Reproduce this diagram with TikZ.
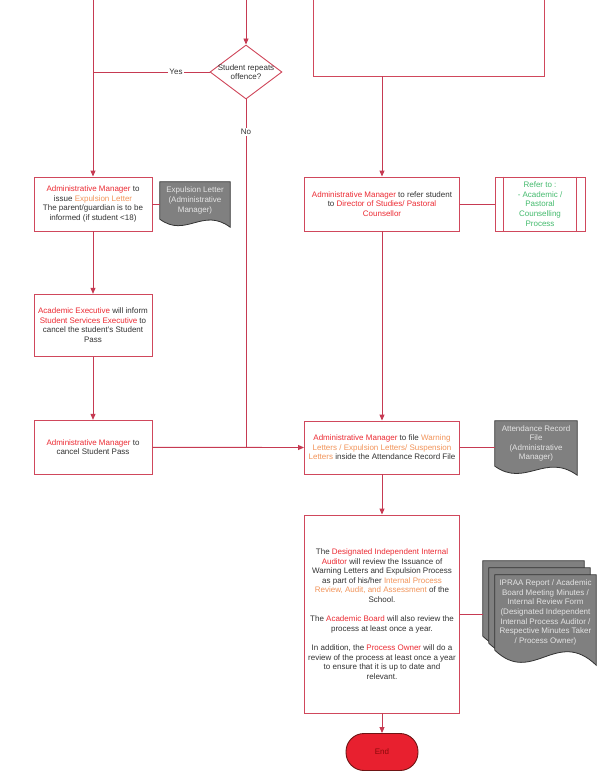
\documentclass[tikz,border=0pt]{standalone}
\usepackage{fontspec}
\setmainfont{Liberation Sans}
\usetikzlibrary{shapes.geometric,arrows.meta,calc,backgrounds}
\definecolor{lnred}{HTML}{C63A52}
\definecolor{bxred}{HTML}{D0485C}
\definecolor{tred}{HTML}{EC2B33}
\definecolor{torg}{HTML}{F2945A}
\definecolor{tgrn}{HTML}{45BB6E}
\definecolor{tblk}{HTML}{333333}
\definecolor{docfill}{HTML}{808080}
\definecolor{doctxt}{HTML}{E4E4E4}
\definecolor{endfill}{HTML}{E8202F}
\definecolor{enddraw}{HTML}{6E1414}
\definecolor{endtxt}{HTML}{8A0A0A}
\newcommand{\txr}[1]{\textcolor{tred}{#1}}
\newcommand{\txo}[1]{\textcolor{torg}{#1}}
\newcommand{\docshape}[2]{\path[docline] (#1.north west) -- (#1.north east) -- ($(#1.south east)+(0,#2)$) .. controls ($(#1.south west)!0.61!(#1.south east)+(0,{-1.55*#2})$) and ($(#1.south west)!0.37!(#1.south east)+(0,{2.4*#2})$) .. (#1.south west) -- cycle;}
\begin{document}
\begin{tikzpicture}[x=1pt,y=-1pt, font=\fontsize{8}{9.6}\selectfont,
 box/.style={draw=bxred, line width=0.9pt, rectangle, inner sep=0pt, align=center, text=tblk, fill=white},
 conn/.style={draw=lnred, line width=0.9pt},
 arr/.style={conn, -{Triangle[length=6pt,width=5pt]}},
 doc/.style={rectangle, inner sep=0pt, align=center, text=doctxt},
 docline/.style={draw=black!80, fill=docfill, line width=0.8pt},
 lbl/.style={fill=white, inner sep=1pt, text=tblk}]
\useasboundingbox (0,0) rectangle (608,776);
% nodes
\node[box, minimum width=231pt, minimum height=81pt] (top) at (428.5,35.5) {};
\node[diamond, draw=bxred, line width=0.9pt, fill=white, minimum width=72pt, minimum height=54pt, inner sep=0pt] (dia) at (246,72) {};
\node[text=tblk, align=center, inner sep=0pt] (diatxt) at (dia.center) {Student repeats\\offence?};

\node[box, minimum width=118pt, minimum height=54pt] (b1) at (93,204) {\txr{Administrative Manager} to\\issue \txo{Expulsion Letter}\\The parent/guardian is to be\\informed (if student <18)};
\node[doc, minimum width=70pt, minimum height=37pt] (d1) at (195,200.5) {Expulsion Letter\\(Administrative\\Manager)};

\node[box, minimum width=155pt, minimum height=54pt] (r1) at (382,204) {\txr{Administrative Manager} to refer student\\to \txr{Director of Studies/ Pastoral}\\\txr{Counsellor}};
\node[box, minimum width=90pt, minimum height=54pt, text=tgrn] (pp) at (540,204) {Refer to :\\- Academic /\\Pastoral\\Counselling\\Process};
\draw[bxred, line width=0.9pt] ([xshift=9pt]pp.north west) -- ([xshift=9pt]pp.south west);
\draw[bxred, line width=0.9pt] ([xshift=-9pt]pp.north east) -- ([xshift=-9pt]pp.south east);

\node[box, minimum width=118pt, minimum height=62pt] (b2) at (93,325.3) {\txr{Academic Executive} will inform\\\txr{Student Services Executive} to\\cancel the student's Student\\Pass};
\node[box, minimum width=118pt, minimum height=54pt] (b3) at (93,447.3) {\txr{Administrative Manager} to\\cancel Student Pass};

\node[box, minimum width=155pt, minimum height=53pt] (r2) at (382,447.5) {\txr{Administrative Manager} to file \txo{Warning}\\\txo{Letters / Expulsion Letters/ Suspension}\\\txo{Letters} inside the Attendance Record File};
\node[doc, minimum width=82pt, minimum height=45pt] (d2) at (536,443.5) {Attendance Record\\File\\(Administrative\\Manager)};

\node[box, minimum width=155pt, minimum height=198pt] (big) at (382,614) {The \txr{Designated Independent Internal}\\\txr{Auditor} will review the Issuance of\\Warning Letters and Expulsion Process\\as part of his/her \txo{Internal Process}\\\txo{Review, Audit, and Assessment} of the\\School.\\[9.6pt]The \txr{Academic Board} will also review the\\process at least once a year.\\[9.6pt]In addition, the \txr{Process Owner} will do a\\review of the process at least once a year\\to ensure that it is up to date and\\relevant.};

\node[doc, minimum width=101pt, minimum height=75pt] (m1) at (533.5,598.5) {};
\node[doc, minimum width=101pt, minimum height=75pt] (m2) at (539.5,605.5) {};
\node[doc, minimum width=101pt, minimum height=75pt] (m3) at (545.5,612.5) {IPRAA Report / Academic\\Board Meeting Minutes /\\Internal Review Form\\(Designated Independent\\Internal Process Auditor /\\Respective Minutes Taker\\/ Process Owner)};

\node[draw=enddraw, fill=endfill, text=endtxt, line width=0.9pt, rounded corners=18pt, minimum width=72pt, minimum height=37pt, inner sep=0pt] (end) at (382,752) {End};

\begin{scope}[on background layer]
\docshape{d1}{8}
\docshape{d2}{9}
\docshape{m1}{15}
\docshape{m2}{15}
\docshape{m3}{15}
\end{scope}

% connectors
\coordinate (topL) at (93,-5);
\coordinate (topM) at (246,-5);
\draw[arr] (topM) -- (dia.north);
\draw[arr] (topL) -- (b1.north);
\draw[conn] (dia.west) -- (dia.west -| b1.north);
\node[lbl] (yes) at (176,71.5) {Yes};
\draw[conn] (dia.south) -- (dia.south |- b3.east);
\node[lbl] (no) at (246,132) {No};
\draw[arr] (b3.east) -- (r2.west);
\draw[arr] (r1.north |- top.south) -- (r1.north);
\draw[arr] (b1.south) -- (b2.north);
\draw[arr] (b2.south) -- (b3.north);
\draw[conn] (b1.east) -- (b1.east -| d1.west);
\draw[conn] (r1.east) -- (pp.west);
\draw[arr] (r1.south) -- (r2.north);
\draw[conn] (r2.east) -- (r2.east -| d2.west);
\draw[arr] (r2.south) -- (big.north);
\draw[conn] (big.east) -- (big.east -| m1.west);
\draw[arr] (big.south) -- (end.north);
\end{tikzpicture}
\end{document}
